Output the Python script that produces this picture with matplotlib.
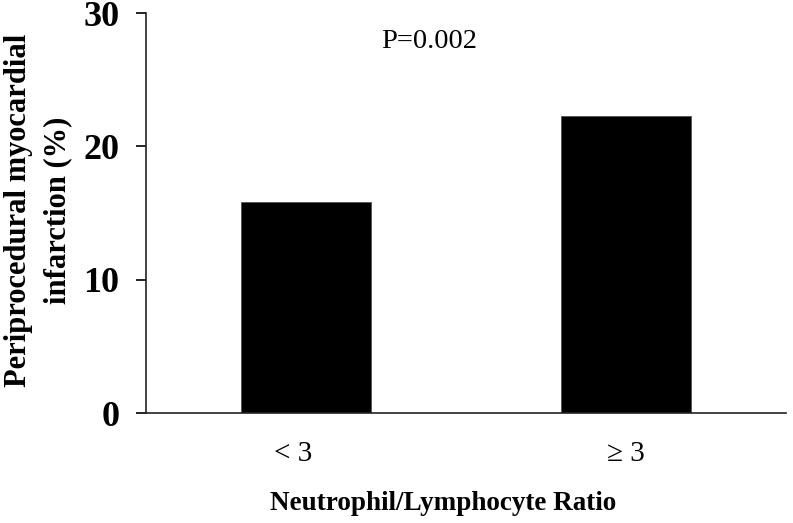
import matplotlib
matplotlib.use("Agg")
import matplotlib.pyplot as plt

plt.rcParams['font.family'] = ['Liberation Serif', 'DejaVu Serif']

categories = ["< 3", "\u2265 3"]
values = [15.8, 22.3]
y_ticks = [0, 10, 20, 30]

fig = plt.figure(figsize=(7.93, 5.23), dpi=100)
ax = fig.add_axes([146 / 793, 1 - 413 / 523, 640 / 793, 400 / 523])

x = list(range(len(categories)))
ax.bar(x, values, width=0.405, color="black", edgecolor="#555555", linewidth=0.6)

ax.set_xlim(-0.5, 1.5)
ax.set_ylim(0, 30)
ax.set_yticks(y_ticks)
ax.set_yticklabels([str(t) for t in y_ticks], fontsize=26, fontweight="bold")
ax.tick_params(axis="y", direction="out", length=7.2, width=1.2, pad=12)
ax.set_xticks([])

for s in ["top", "right"]:
    ax.spines[s].set_visible(False)
for s in ["left", "bottom"]:
    ax.spines[s].set_linewidth(1.2)
    ax.spines[s].set_color("#222222")

label_shift = [-0.04, 0.0]
for xi, lab, dx in zip(x, categories, label_shift):
    ax.text(xi + dx, -3.05, lab, ha="center", va="center", fontsize=21)

ax.text(0.385, 27.9, "P=0.002", ha="center", va="center", fontsize=20.5)

fig.text(443 / 793, 1 - 503 / 523, "Neutrophil/Lymphocyte Ratio",
         ha="center", va="center", fontsize=19.5, fontweight="bold")
fig.text(38 / 793, 1 - 210 / 523, "Periprocedural myocardial\ninfarction (%)",
         ha="center", va="center", rotation=90, fontsize=22, fontweight="bold",
         linespacing=1.45)

fig.savefig("out.png", dpi=100)
